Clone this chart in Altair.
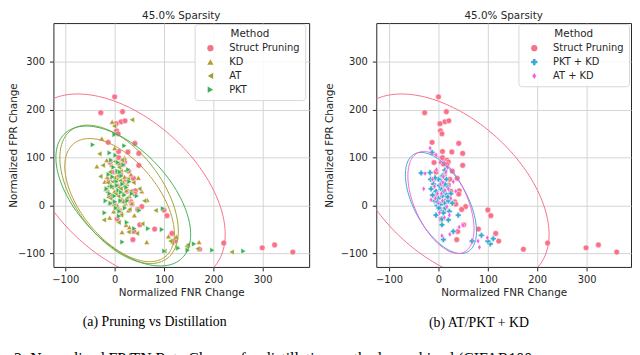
import altair as alt
import numpy as np
import pandas as pd

# ---------------- data ----------------
TICKS = [-100, 0, 100, 200, 300]
YDOM = [-128, 381]
XDOM_A = [-124, 394]
XDOM_B = [-126, 390]

prune_pts = [(0, 227), (-28, 194), (16, 196), (13, 175), (21, 177), (3, 171), (4, 156), (7, 150),
             (-13, 132), (41, 130), (8, 113), (27, 112), (49, 109), (8, 100), (17, 95), (20, 91),
             (17, 86), (49, 84), (-9, 90), (10, 87), (38, 57), (23, 55), (3, 56), (20, 43), (42, 31),
             (41, 24), (33, 8), (35, 3), (55, -2), (47, -8), (100, -9), (106, -21), (5, -28), (51, -40),
             (39, -54), (37, -71), (81, -49), (116, -58), (122, -74), (172, -91), (221, -78), (299, -88),
             (324, -82), (361, -97), (-11, 53), (7, 41), (0, 2), (-5, 70), (12, 65), (25, 30), (-6, 20),
             (15, 10), (28, 72), (10, -10)]

kd_pts = [(-5, 175), (-26, 140), (-16, 95), (-36, 82), (0, 120), (20, 100), (48, 58), (55, 30), (66, 12),
          (65, -76), (23, -40), (15, -55), (109, -64), (171, -76), (149, -83), (125, -65), (30, -45),
          (-10, -25), (40, -20), (-15, 60), (-8, 45), (0, 30), (5, 55), (10, 40), (12, 15), (18, 25),
          (22, 5), (-3, 10), (8, -5), (15, -15), (-12, 20), (25, 45), (30, 20), (3, 70), (-6, 85),
          (14, 75), (20, 60), (-18, 35), (28, -10), (6, 0), (-2, -12), (35, 5), (10, 88), (-10, 5),
          (17, 50), (24, 32), (1, 42), (-20, 50), (33, 65)]

at_pts = [(35, 179), (-1, 166), (-31, 108), (-24, 84), (-29, 61), (-12, 40), (56, -38), (83, -10),
          (116, -78), (146, -85), (168, -90), (237, -97), (113, -74), (148, -82), (101, -95), (45, -58),
          (28, -55), (60, 10), (50, 35), (-22, -30), (8, -35), (-10, 70), (-4, 50), (2, 25), (6, 62),
          (12, 35), (16, 8), (20, 40), (-8, 15), (4, -8), (13, -20), (24, 15), (-15, 28), (9, 80),
          (27, 55), (-2, 0), (18, -2), (32, 30), (-6, 38), (11, 52), (22, 72), (0, 92), (-14, 48),
          (30, -8), (7, 20), (15, 95), (-1, 58), (38, 48)]

pkt_pts = [(-44, 127), (0, 148), (20, 125), (-10, 110), (98, -6), (96, -50), (68, -48), (16, -76),
           (101, -95), (128, -87), (161, -80), (148, -93), (198, -93), (261, -95), (129, -89), (40, -48),
           (25, -35), (-20, -15), (50, -10), (45, 20), (-12, 65), (-5, 40), (0, 20), (4, 50), (8, 32),
           (12, 10), (16, 45), (20, 22), (-8, 5), (3, -5), (10, -12), (-16, 35), (6, 72), (14, 62),
           (24, 38), (-2, 80), (18, 85), (26, 10), (-10, 25), (1, 8), (9, -22), (30, 50), (-4, 60),
           (13, 28), (21, -5), (7, 90), (-18, 10), (35, 25), (5, 42), (11, 70), (-7, 95), (2, 105),
           (28, 75)]

pktkd_pts = [(-35, 68), (-17, 69), (-16, 55), (7, 61), (13, 74), (-13, 111), (68, -74), (87, -62),
             (105, -80), (111, -69), (30, -54), (10, -71), (7, -40), (100, -74), (40, -20), (20, -30),
             (-10, 45), (-5, 30), (0, 15), (5, 35), (8, 20), (12, 5), (15, 25), (-3, 0), (3, -10),
             (10, -15), (-8, 10), (18, 40), (20, 10), (6, 50), (-12, 22), (0, 55), (14, -5), (25, 25),
             (-5, -20), (9, 62), (2, 42), (16, 55), (-2, 8), (22, -12), (11, 30), (-15, 35), (4, 2),
             (28, 5), (7, -28), (-7, 58), (19, 18), (13, 45), (1, -5)]

atkd_pts = [(-17, 120), (-5, 106), (-27, 67), (80, -74), (99, -67), (83, -87), (7, -63), (50, -41),
            (23, -60), (-30, 35), (35, 30), (42, -45), (-8, 40), (-2, 25), (4, 45), (8, 10), (13, 32),
            (17, -2), (-6, 15), (2, -15), (10, 60), (20, 35), (-12, 55), (6, 25), (15, 70), (-4, 75),
            (25, 15), (0, 5), (12, -25), (30, 50), (-15, 12), (18, 80), (3, 90), (22, -20), (9, 48)]

# ellipse parameters: centre x, centre y, half x-extent, half y-extent, correlation
ell_a = [("KD", 10, 11.5, 111, 128.5, -0.55), ("AT", 9, 23.5, 120, 144.5, -0.53),
         ("PKT", 17.5, 20, 136.5, 146, -0.55), ("Struct Pruning", 23, 36, 201, 197, -0.487)]
ell_b = [("PKT + KD", 5, 5.5, 72, 105.5, -0.56), ("AT + KD", 5, 6.5, 67, 106.5, -0.52),
         ("Struct Pruning", 23, 36, 201, 197, -0.487)]

COLORS = {"Struct Pruning": "#f77189", "KD": "#bb9832", "AT": "#97a431", "PKT": "#3bb153",
          "PKT + KD": "#39a7d0", "AT + KD": "#f561dd"}
SHAPES = {"Struct Pruning": "circle", "KD": "triangle-up", "AT": "triangle-left",
          "PKT": "triangle-right", "PKT + KD": "cross", "AT + KD": "M0,-1L0.62,0L0,1L-0.62,0Z"}

CAPTION_A = "(a) Pruning vs Distillation"
CAPTION_B = "(b) AT/PKT + KD"
FIG_TEXT = "3: Normalized FP/TN Rate Change for distillation methods combined (CIFAR100"

H = 247
FONT = "DejaVu Sans"
INK = "#262626"


def ellipse_df(params):
    rows = []
    t = np.linspace(0, 2 * np.pi, 181)
    for name, cx, cy, sx, sy, rho in params:
        xs = cx + sx * np.cos(t)
        ys = cy + sy * (rho * np.cos(t) + np.sqrt(1 - rho ** 2) * np.sin(t))
        for i, (x, y) in enumerate(zip(xs, ys)):
            rows.append({"method": name, "hex": COLORS[name], "i": i, "x": x, "y": y})
    return pd.DataFrame(rows)


def text_layer(txt, x, y, size, align, baseline):
    return alt.Chart(pd.DataFrame({"k": [0]})).mark_text(
        text=txt, font="Liberation Serif", fontSize=size, color="black",
        align=align, baseline=baseline).encode(x=alt.value(x), y=alt.value(y))


def panel(series, ell, xdom, width, ytitle_x, legend_x, extra):
    rows = []
    for name, pts in series:
        for x, y in pts:
            rows.append({"method": name, "x": x, "y": y})
    df = pd.DataFrame(rows)
    names = [s[0] for s in series]
    xs = alt.Scale(domain=xdom, nice=False, zero=False)
    ys = alt.Scale(domain=YDOM, nice=False, zero=False)
    xax = alt.Axis(values=TICKS, title="Normalized FNR Change", titlePadding=3)
    yax = alt.Axis(values=TICKS, title="Normalized FPR Change", titleX=ytitle_x, titleY=H / 2)
    leg = alt.Legend(title="Method", orient="none", legendX=legend_x, legendY=1,
                     padding=5, rowPadding=4, symbolOffset=6, labelOffset=14,
                     symbolSize=40, labelFontSize=10, labelFont=FONT, labelColor=INK,
                     titleFontSize=10.5, titleFont=FONT, titleFontWeight="normal",
                     titleColor=INK, titleAnchor="middle", titlePadding=4,
                     fillColor="rgba(255,255,255,0.85)", strokeColor="#d6d6d6",
                     cornerRadius=3, symbolStrokeWidth=0)
    pts = alt.Chart(df).mark_point(filled=True, opacity=1, size=33, stroke="white",
                                   strokeWidth=0.5).encode(
        x=alt.X("x:Q", scale=xs, axis=xax),
        y=alt.Y("y:Q", scale=ys, axis=yax),
        color=alt.Color("method:N", sort=names,
                        scale=alt.Scale(domain=names, range=[COLORS[n] for n in names]), legend=leg),
        shape=alt.Shape("method:N", sort=names,
                        scale=alt.Scale(domain=names, range=[SHAPES[n] for n in names]), legend=leg),
    )
    lines = alt.Chart(ellipse_df(ell)).mark_line(clip=True, strokeWidth=1).encode(
        x=alt.X("x:Q", scale=xs, axis=xax),
        y=alt.Y("y:Q", scale=ys, axis=yax),
        detail="method:N",
        color=alt.Color("hex:N", scale=None),
        order="i:Q",
    )
    return alt.layer(pts, lines, *extra).properties(
        width=width, height=H,
        title=alt.TitleParams("45.0% Sparsity", fontSize=10.5, font=FONT, fontWeight="normal",
                              color=INK, offset=-8, baseline="bottom", anchor="middle"),
    )


left = panel([("Struct Pruning", prune_pts), ("KD", kd_pts), ("AT", at_pts), ("PKT", pkt_pts)],
             ell_a, XDOM_A, 259, -35, 143,
             [text_layer(CAPTION_A, 102.5, 303, 14, "center", "middle"),
              text_layer(FIG_TEXT, -40, 332, 16, "left", "top")])
right = panel([("Struct Pruning", prune_pts), ("PKT + KD", pktkd_pts), ("AT + KD", atkd_pts)],
              ell_b, XDOM_B, 258, -42, 144,
              [text_layer(CAPTION_B, 104, 304, 14, "center", "middle")])

chart = alt.hconcat(left, right, spacing=68, bounds="flush").resolve_scale(
    color="independent", shape="independent"
).properties(
    padding={"left": 0, "top": 0, "right": 0, "bottom": -9}
).configure_view(stroke=INK, strokeWidth=1).configure_axis(
    grid=True, gridColor="#d3d3d3", gridWidth=1, domain=False,
    tickColor=INK, tickSize=4, tickWidth=1, labelPadding=4,
    labelFont=FONT, labelFontSize=10, labelColor=INK,
    titleFont=FONT, titleFontSize=10.5, titleFontWeight="normal", titleColor=INK,
).configure_axisY(labelPadding=5)

chart.save("out.html", embed_options={"renderer": "svg", "actions": False})
